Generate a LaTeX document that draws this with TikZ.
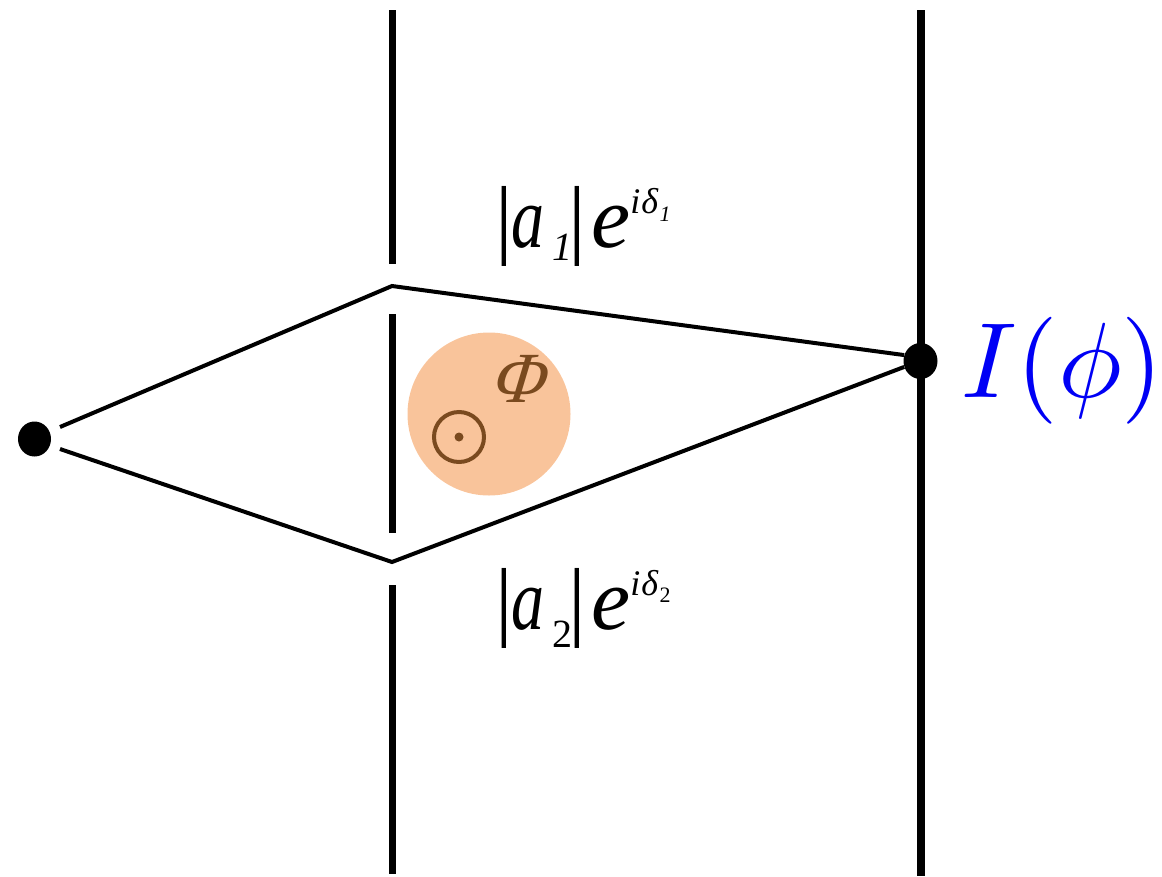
\documentclass[tikz,border=0pt]{standalone}
\usepackage{fontspec}
\setmainfont{Liberation Serif}
\usetikzlibrary{shapes.geometric}
\definecolor{fluxfill}{HTML}{F9C49B}
\definecolor{fluxbrown}{HTML}{7A4A1F}
\definecolor{intblue}{HTML}{0000F5}
\newcommand{\fs}[1]{\fontsize{#1}{#1}\selectfont}
% #1 subscript of a, #2 its drop, #3 subscript of delta, #4 its size, #5 its drop
\newcommand{\ampl}[5]{\fs{88}|\kern-1pt\scalebox{.75}[1]{\textit{a}}\kern8pt\raisebox{-#2}{\fs{40}#1}\kern-4pt|\kern5pt\textit{e}\raisebox{34pt}{\fs{36}\textit{i}\kern1pt\textit{δ}\kern1pt\raisebox{-#5}{\fs{#4}#3}}}
\tikzset{
  wall/.style={line width=7pt,black},
  beam/.style={line width=4pt,black},
  spot/.style={ellipse,fill=black,inner sep=0pt},
  lab/.style={inner sep=0pt,anchor=base west}
}
\begin{document}
\begin{tikzpicture}[x=1pt,y=-1pt]
\useasboundingbox (0,0) rectangle (1162,876);
% flux disc
\node[circle,fill=fluxfill,minimum size=163pt,inner sep=0pt] (flux) at (489,414) {};
\node[circle,draw=fluxbrown,line width=4pt,minimum size=50pt,inner sep=0pt] (ring) at (459,437) {};
\node[circle,fill=fluxbrown,minimum size=9pt,inner sep=0pt] (ringdot) at (ring.center) {};
\node[inner sep=0pt,text=fluxbrown,xslant=.3,transform shape] (phiflux) at (523,379) {\fs{72}Φ};
% walls
\coordinate (w1a) at (392,10);  \coordinate (w1b) at (392,264);
\coordinate (w2a) at (392,314); \coordinate (w2b) at (392,533);
\coordinate (w3a) at (392,585); \coordinate (w3b) at (392,874);
\coordinate (r1) at (921,10);   \coordinate (r2) at (921,876);
\draw[wall] (w1a) -- (w1b);
\draw[wall] (w2a) -- (w2b);
\draw[wall] (w3a) -- (w3b);
\draw[wall,line width=8pt] (r1) -- (r2);
% spots
\node[spot,minimum width=33pt,minimum height=35pt] (src) at (34.5,439) {};
\node[spot,minimum width=34pt,minimum height=36pt] (det) at (920.5,361) {};
% beams
\coordinate (s1) at (60,427);  \coordinate (s2) at (60,449);
\coordinate (top) at (392,286); \coordinate (bot) at (392,562);
\draw[beam,line join=miter] (s1) -- (top) -- (det.160);
\draw[beam,line join=miter] (s2) -- (bot) -- (det.200);
% labels
\node[lab] (a1) at (495,247) {\ampl{\textit{1}}{13pt}{\textit{1}}{22}{8pt}};
\node[lab] (a2) at (495,629) {\ampl{2}{18pt}{2}{22}{7pt}};
\node[inner sep=0pt,anchor=west,text=intblue,scale=10.7] (iphi) at (959,371) {$I(\phi)$};
\end{tikzpicture}
\end{document}
